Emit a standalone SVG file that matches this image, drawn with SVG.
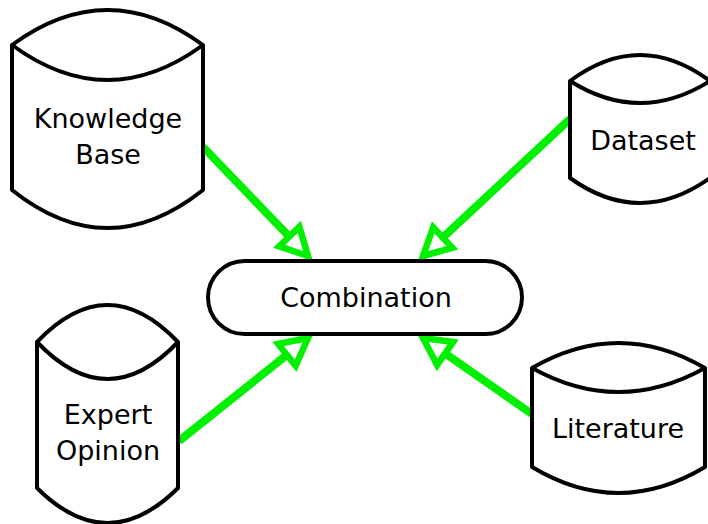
<svg xmlns="http://www.w3.org/2000/svg" width="708" height="524" viewBox="0 0 708 524">
  <style>
    .shape { fill: #ffffff; stroke: #000000; stroke-width: 4; stroke-linejoin: round; }
    .label { font-family: "DejaVu Sans", "Liberation Sans", sans-serif; font-size: 27px; fill: #000000; text-anchor: middle; }
    .edge { fill: none; stroke: #00f000; stroke-width: 8; marker-end: url(#openArrow); }
  </style>
  <defs>
    <marker id="openArrow" markerUnits="userSpaceOnUse" orient="auto" markerWidth="40" markerHeight="40" refX="0" refY="0" viewBox="-35 -20 40 40" overflow="visible">
      <path d="M0,0 L-27,-14 L-27,14 Z" fill="#ffffff" stroke="#00f000" stroke-width="6.5" stroke-linejoin="miter"/>
    </marker>
  </defs>
  <rect width="708" height="524" fill="#ffffff"/>

  <!-- connectors -->
  <g id="connectors">
    <path class="edge" d="M203,147 L308,256"/>
    <path class="edge" d="M570,119 L423,256"/>
    <path class="edge" d="M179,441 L308,338"/>
    <path class="edge" d="M532,414 L423,338"/>
  </g>

  <!-- central process -->
  <g id="combination">
    <rect class="shape" x="208" y="261" width="314" height="73" rx="36.5" ry="36.5"/>
    <text class="label" x="366" y="307">Combination</text>
  </g>

  <!-- stored-data sources -->
  <g id="knowledge-base">
    <path class="shape" d="M12,45 Q107.5,-25 203,45 L203,190 Q107.5,266 12,190 Z"/>
    <path class="shape" fill="none" d="M12,45 Q107.5,115 203,45"/>
    <text class="label" x="108" y="128">Knowledge</text>
    <text class="label" x="108" y="164">Base</text>
  </g>

  <g id="dataset">
    <path class="shape" d="M570,81 Q640,29 710,81 L710,178 Q640,228 570,178 Z"/>
    <path class="shape" fill="none" d="M570,81 Q640,125 710,81"/>
    <text class="label" x="643" y="150">Dataset</text>
  </g>

  <g id="expert-opinion">
    <path class="shape" d="M37,342 Q107.5,268 178,342 L178,488 Q107.5,558 37,488 Z"/>
    <path class="shape" fill="none" d="M37,342 Q107.5,416 178,342"/>
    <text class="label" x="108" y="424">Expert</text>
    <text class="label" x="108" y="460">Opinion</text>
  </g>

  <g id="literature">
    <path class="shape" d="M532,368 Q618.5,318 705,368 L705,467 Q618.5,519 532,467 Z"/>
    <path class="shape" fill="none" d="M532,368 Q618.5,416 705,368"/>
    <text class="label" x="618" y="438">Literature</text>
  </g>
</svg>
